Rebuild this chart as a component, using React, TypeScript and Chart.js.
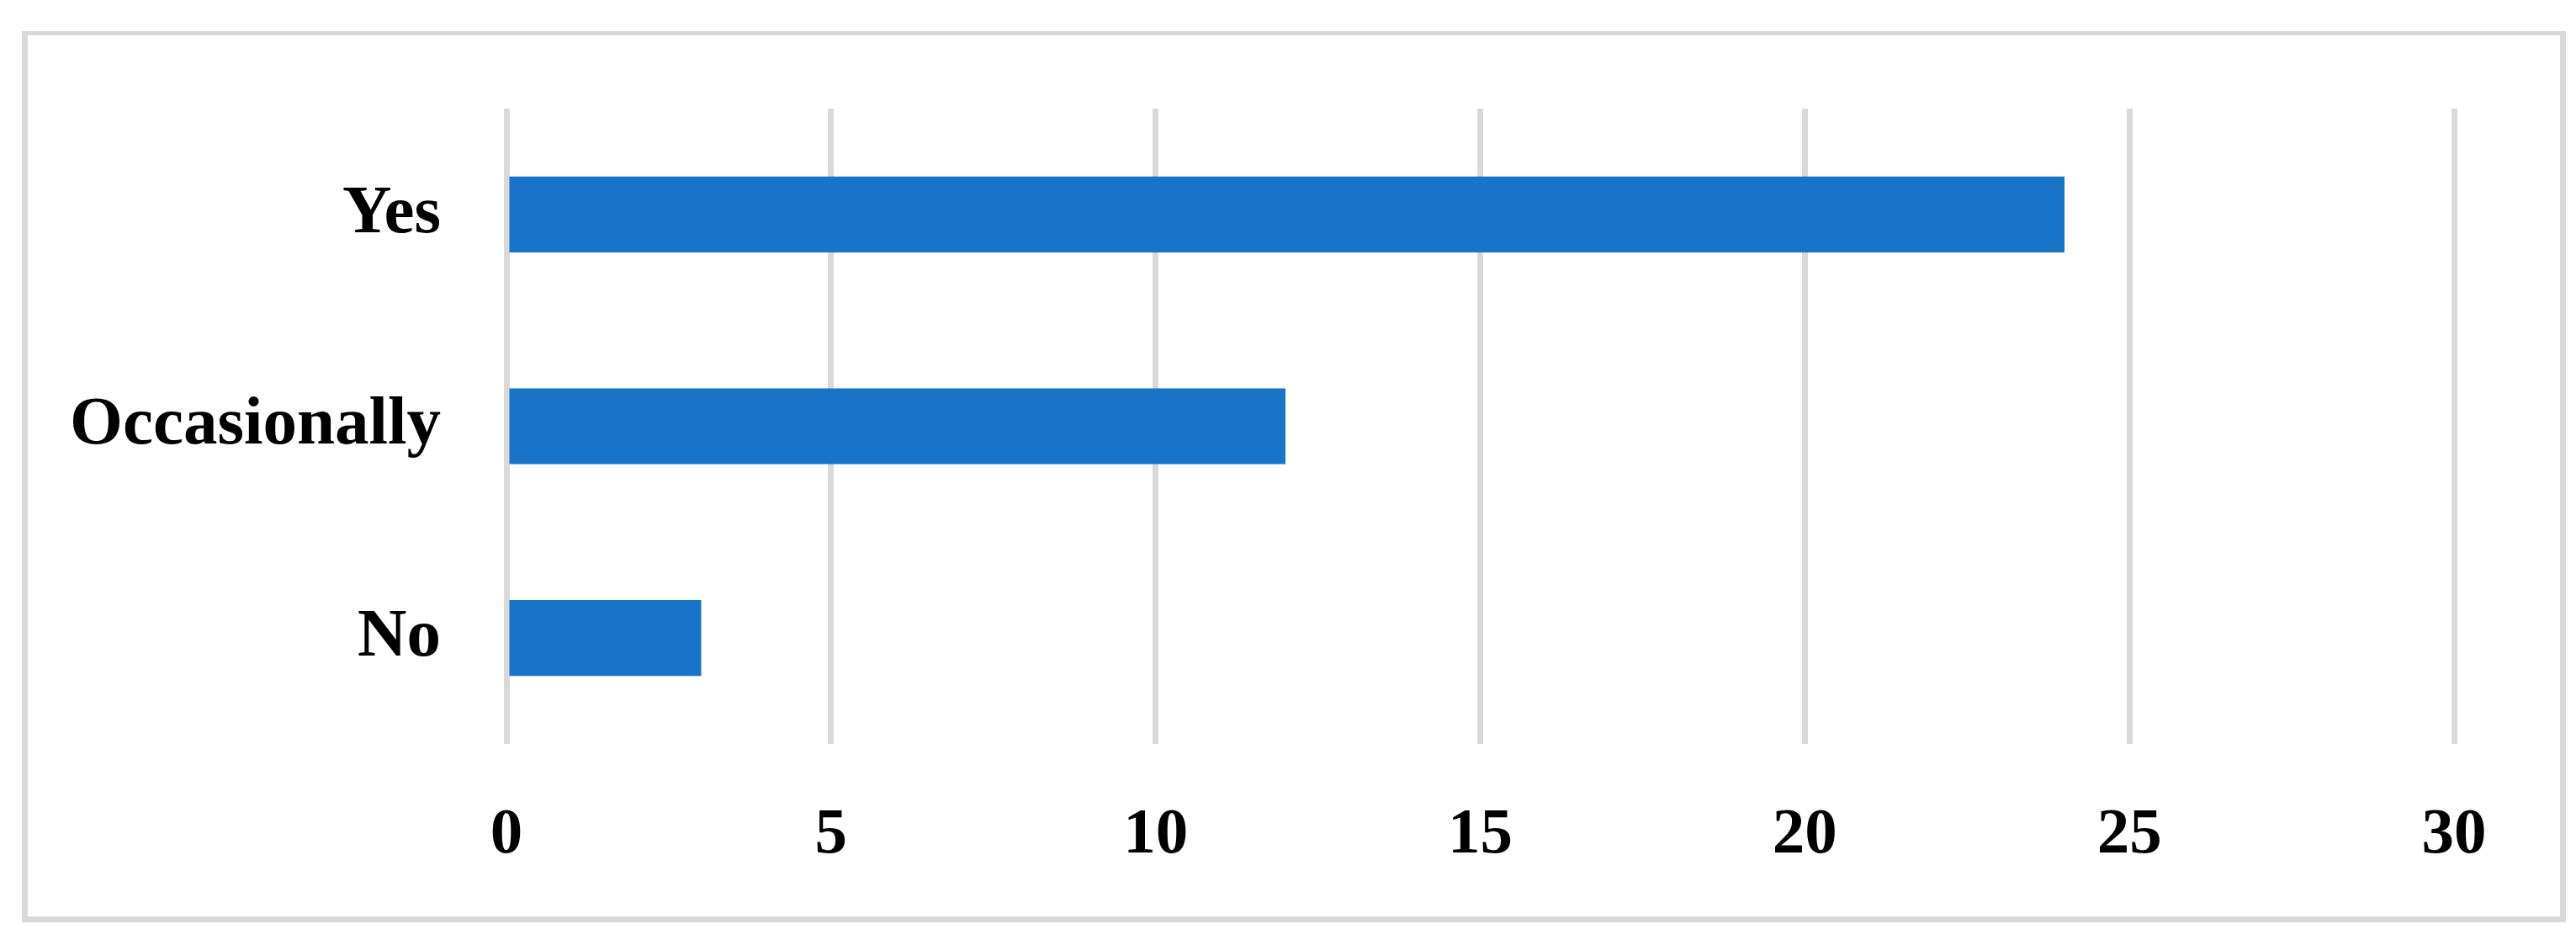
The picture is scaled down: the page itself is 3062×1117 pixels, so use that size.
import React, { useEffect, useRef } from "react";
import { Chart, registerables } from "chart.js";
Chart.register(...registerables);

const categories = ["Yes", "Occasionally", "No"];
const values = [24, 12, 3];
const xTicks = [0, 5, 10, 15, 20, 25, 30];

const FAMILY = "'Liberation Serif', 'DejaVu Serif', serif";
const X_FONT = { family: FAMILY, size: 77, weight: "bold" as const };
const Y_FONT = { family: FAMILY, size: 81, weight: "bold" as const };

export default function App() {
  const ref = useRef<HTMLCanvasElement>(null);
  useEffect(() => {
    const chart = new Chart(ref.current!, {
      type: "bar",
      data: {
        labels: categories,
        datasets: [
          {
            data: values,
            backgroundColor: "#1874C9",
            categoryPercentage: 1,
            barPercentage: 0.358,
          },
        ],
      },
      options: {
        indexAxis: "y",
        responsive: false,
        animation: false,
        layout: { padding: { top: 129, right: 145, left: 0, bottom: 0 } },
        plugins: { legend: { display: false }, tooltip: { enabled: false } },
        scales: {
          x: {
            min: 0,
            max: 30,
            afterBuildTicks: (s: any) => {
              s.ticks = xTicks.map((v) => ({ value: v }));
            },
            ticks: { padding: 63, color: "#000", font: X_FONT },
            grid: { color: "#d9d9d9", lineWidth: 7, drawTicks: false },
            border: { display: false },
            afterFit: (s: any) => {
              s.height = 233;
            },
          },
          y: {
            grid: { display: false, drawTicks: false },
            border: { display: false },
            ticks: { padding: 78, color: "#000", font: Y_FONT },
            afterFit: (s: any) => {
              s.width = 602;
            },
          },
        },
      },
    });
    return () => chart.destroy();
  }, []);
  return (
    <div style={{ position: "fixed", left: 0, top: 0, width: 3062, height: 1117, background: "#fff" }}>
      <div
        style={{
          position: "absolute",
          left: 26,
          top: 37,
          width: 3010,
          height: 1047,
          borderLeft: "7px solid #d9d9d9",
          borderRight: "7px solid #d9d9d9",
          borderTop: "5px solid #d9d9d9",
          borderBottom: "7px solid #d9d9d9",
        }}
      />
      <canvas ref={ref} width={3062} height={1117} style={{ position: "absolute", left: 0, top: 0 }} />
    </div>
  );
}
